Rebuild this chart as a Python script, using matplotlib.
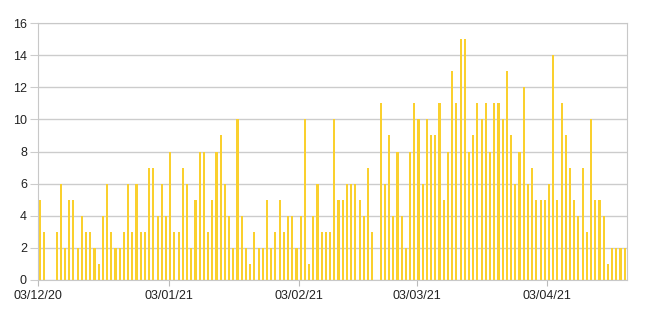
import pandas as pd
import matplotlib.pyplot as plt
import matplotlib.dates as mdates

plt.rcParams['font.family'] = ['Liberation Sans', 'DejaVu Sans']

# daily counts from 03/12/20 onward
start_date = '2020-12-03'
counts = [5, 3, 0, 0, 3, 6, 2, 5, 5, 2, 4, 3, 3, 2, 1, 4, 6, 3, 2, 2,
          3, 6, 3, 6, 3, 3, 7, 7, 4, 6, 4, 8,
          3, 3, 7, 6, 2, 5, 8, 8, 3, 5, 8, 9, 6, 4, 2, 10, 4, 2, 1, 3,
          2, 2, 5, 2, 3, 5, 3, 4, 4, 2, 4, 10, 1, 4, 6, 3, 3, 3,
          10, 5, 5, 6, 6, 6, 5, 4, 7, 3, 0, 11, 6, 9, 4, 8, 4, 2, 8, 11,
          10, 6, 10, 9, 9, 11, 5, 8, 13, 11, 15, 15, 8, 9, 11, 10, 11,
          8, 11, 11, 10, 13, 9, 6, 8, 12, 6, 7, 5, 5, 5, 6, 14, 5, 11, 9,
          7, 5, 4, 7, 3, 10, 5, 5, 4, 1, 2, 2, 2, 2]
dates = pd.date_range(start_date, periods=len(counts), freq='D')

fig = plt.figure(figsize=(6.5, 3.23), dpi=100)
ax = fig.add_axes([38 / 650, 43 / 323, 589 / 650, 257 / 323])

ax.bar(dates + pd.Timedelta(hours=9), counts, width=0.5, color='#FAD02E', zorder=3)

ax.set_ylim(0, 16)
ax.set_yticks(range(0, 17, 2))
ax.set_xlim(dates[0] - pd.Timedelta(hours=1), dates[-1] + pd.Timedelta(hours=22))
ax.xaxis.set_major_locator(mdates.MonthLocator(bymonthday=3))
ax.xaxis.set_major_formatter(mdates.DateFormatter('%d/%m/%y'))

ax.grid(axis='y', color='#cccccc', linewidth=1, zorder=0)
for s in ax.spines.values():
    s.set_color('#c8c8c8')
ax.tick_params(axis='y', length=6, color='#cccccc', labelsize=9, pad=2, labelcolor='#222222')
ax.tick_params(axis='x', length=4, color='#bbbbbb', labelsize=9, pad=3, labelcolor='#222222')

plt.savefig('out.png', dpi=100)
